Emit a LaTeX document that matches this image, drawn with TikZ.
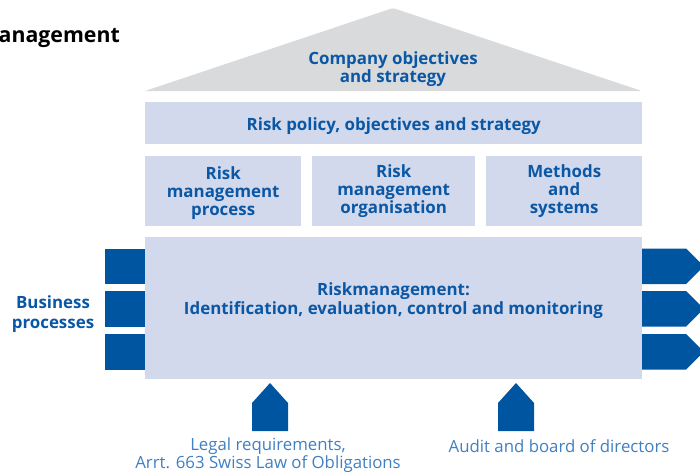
\documentclass[tikz,border=0pt]{standalone}
\usepackage{fontspec}
\setmainfont{Open Sans}
\definecolor{boxfill}{HTML}{D3D9EC}
\definecolor{darkblue}{HTML}{0055A0}
\definecolor{textblue}{HTML}{0A57A5}
\definecolor{lightblue}{HTML}{3F7FC2}
\definecolor{roofgray}{HTML}{D9DADC}
\tikzset{
  lightbox/.style={fill=boxfill, draw=none, inner sep=0pt, anchor=north west},
  boxtext/.style={text=textblue, font=\bfseries\fontsize{16.9}{18}\selectfont, align=center, inner sep=0pt},
  bluebar/.style={fill=darkblue, draw=none, inner sep=0pt, anchor=north west, minimum width=40pt, minimum height=35.5pt},
  notetext/.style={text=lightblue, font=\fontsize{16.8}{18}\selectfont, align=center, inner sep=0pt},
}
\begin{document}
\begin{tikzpicture}[x=1pt,y=-1pt]
\useasboundingbox (0,0) rectangle (700,472);
% title fragment
\node[anchor=west, inner sep=0pt, font=\bfseries\fontsize{21.3}{24}\selectfont, text=black] (title) at (-1.5,38) {anagement};
% roof
\fill[roofgray, rounded corners=2.5pt] (145,91) -- (393,8) -- (642,91) [sharp corners] -- cycle;
\node[boxtext] (company) at (393,69) {Company objectives\\and strategy};
% risk policy bar
\node[lightbox, minimum width=497pt, minimum height=42pt] (policy) at (145,102) {};
\node[boxtext] (policytext) at ([yshift=-2.5pt]policy.center) {Risk policy, objectives and strategy};
% three boxes
\node[lightbox, minimum width=156pt, minimum height=70pt] (proc) at (145,156) {};
\node[lightbox, minimum width=163pt, minimum height=70pt] (org) at (312,156) {};
\node[lightbox, minimum width=156pt, minimum height=70pt] (meth) at (486,156) {};
\node[boxtext] (proctext) at ([yshift=-2pt]proc.center) {Risk\\management\\process};
\node[boxtext] (orgtext) at (org.center) {Risk\\management\\organisation};
\node[boxtext] (methtext) at (meth.center) {Methods\\and\\systems};
% main box
\node[lightbox, minimum width=497pt, minimum height=142pt] (main) at (145,237) {};
\node[boxtext, font=\bfseries\fontsize{16.9}{19}\selectfont] (maintext) at (393.5,301) {Riskmanagement:\\Identification, evaluation, control and monitoring};
% business processes (left)
\node[bluebar] (bp1) at (105,248.5) {};
\node[bluebar] (bp2) at (105,291) {};
\node[bluebar] (bp3) at (105,334) {};
\node[boxtext, font=\bfseries\fontsize{16.9}{20.5}\selectfont] (bptext) at (53,314) {Business\\processes};
% outputs (right)
\foreach \y/\n in {248.5/out1, 291/out2, 334/out3} {
  \fill[darkblue] (642,\y) -- (686,\y) -- (704,\y+17.75) -- (686,\y+35.5) -- (642,\y+35.5) -- cycle;
}
% bottom inputs
\fill[darkblue] (252,431) -- (252,403) -- (270,383) -- (288,403) -- (288,431) -- cycle;
\fill[darkblue] (498,431) -- (498,403) -- (516,383) -- (534,403) -- (534,431) -- cycle;
\node[notetext] (legal) at (268,455.5) {Legal requirements,\\Arrt. 663 Swiss Law of Obligations};
\node[notetext] (audit) at (559,446) {Audit and board of directors};
\end{tikzpicture}
\end{document}
